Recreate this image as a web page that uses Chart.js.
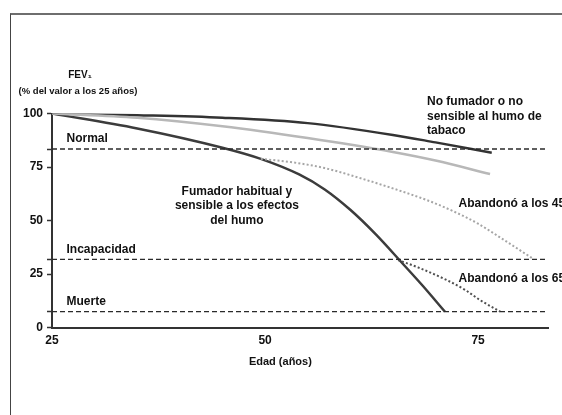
<!DOCTYPE html>
<html>
<head>
<meta charset="utf-8">
<script src="https://cdn.jsdelivr.net/npm/chart.js@4/dist/chart.umd.min.js"></script>
<style>
  html, body { margin: 0; padding: 0; background: #fff; }
  body { width: 562px; height: 415px; position: relative; overflow: hidden; }
  #frame { position: absolute; left: 10px; top: 13px; width: 560px; height: 410px;
           border-top: 2px solid #6e6e6e; border-left: 1px solid #444; }
  #c { position: absolute; left: 0; top: 0; }
</style>
</head>
<body>
<div id="frame"></div>
<canvas id="c" width="562" height="415"></canvas>
<script>
// FEV1 decline with age (Fletcher-Peto style).

const xTicks = [25, 50, 75];
const yTicksLabelled = [0, 25, 50, 75, 100];

// threshold lines
const normalLevel = 83.4;
const disabilityLevel = 31.8;
const deathLevel = 7.4;

// never smoked / not susceptible (dark)
const noSmokerAge = [25, 35, 45, 55, 65, 70, 76.6];
const noSmokerFev = [100, 99.2, 98, 95.5, 90, 86.5, 81.7];

// light grey line
const lightAge = [25, 35, 45, 55, 65, 70, 76.4];
const lightFev = [100, 98, 94, 88.5, 82, 78, 71.7];

// regular smoker, susceptible
const smokerAge = [25, 35, 45, 49.5, 54, 57, 60, 63, 66, 68.5, 71.1];
const smokerFev = [100, 93, 84, 78.8, 71.5, 64.5, 55, 43.5, 30.5, 19.5, 7.4];

// stopped at 45
const quit45Age = [49.5, 53, 57, 61, 65, 69, 72, 75, 78, 81.5];
const quit45Fev = [78.8, 77.3, 74.5, 70, 65, 59.5, 54.5, 48.5, 41, 32];

// stopped at 65
const quit65Age = [65.6, 68, 71.3, 73.5, 75.2, 77.6];
const quit65Fev = [31.5, 28, 22.2, 17.5, 12.9, 7.4];

const xMin = 25, xMax = 83.2, yMin = 0, yMax = 100;

const pts = (xs, ys) => xs.map((x, i) => ({ x, y: ys[i] }));
const hline = (v) => [{ x: xMin, y: v }, { x: xMax, y: v }];

const FONT = '"Liberation Sans", Arial, sans-serif';

// text annotations, anchored in data units
const notes = [
  { text: 'Normal', x: 26.7, y: 88.4, align: 'left' },
  { text: 'Incapacidad', x: 26.7, y: 36.5, align: 'left' },
  { text: 'Muerte', x: 26.7, y: 11.9, align: 'left' },
  { text: 'Fumador habitual y', x: 46.7, y: 63.5, align: 'center' },
  { text: 'sensible a los efectos', x: 46.7, y: 56.8, align: 'center' },
  { text: 'del humo', x: 46.7, y: 50, align: 'center' },
  { text: 'No fumador o no', x: 69, y: 105.3, align: 'left' },
  { text: 'sensible al humo de', x: 69, y: 98.4, align: 'left' },
  { text: 'tabaco', x: 69, y: 91.8, align: 'left' },
  { text: 'Abandonó a los 45', x: 72.7, y: 57.7, align: 'left' },
  { text: 'Abandonó a los 65', x: 72.7, y: 22.9, align: 'left' },
];

const textPlugin = {
  id: 'notes',
  afterDraw(chart) {
    const { ctx, scales: { x, y } } = chart;
    ctx.save();
    ctx.fillStyle = '#111';
    ctx.textBaseline = 'middle';
    ctx.font = 'bold 12px ' + FONT;
    for (const n of notes) {
      ctx.textAlign = n.align;
      ctx.fillText(n.text, x.getPixelForValue(n.x), y.getPixelForValue(n.y));
    }
    // axis titles
    ctx.textAlign = 'center';
    ctx.font = 'bold 11px ' + FONT;
    ctx.fillText('Edad (años)', x.getPixelForValue(51.8), y.bottom + 34);
    ctx.font = 'bold 10px ' + FONT;
    ctx.fillText('FEV₁', 80, y.top - 38);
    ctx.font = 'bold 9.5px ' + FONT;
    ctx.fillText('(% del valor a los 25 años)', 78, y.top - 22);
    ctx.restore();
  }
};

const solid = (data, color, w) => ({
  data, borderColor: color, borderWidth: w, pointRadius: 0,
  cubicInterpolationMode: 'monotone', fill: false,
});
const dotted = (data, color) => ({
  data, borderColor: color, borderWidth: 2, borderDash: [2, 2.2], pointRadius: 0,
  cubicInterpolationMode: 'monotone', fill: false,
});
const dashed = (v) => ({
  data: hline(v), borderColor: '#2a2a2a', borderWidth: 1.3, borderDash: [5, 3],
  pointRadius: 0, fill: false,
});

new Chart(document.getElementById('c'), {
  type: 'line',
  data: {
    datasets: [
      dashed(normalLevel),
      dashed(disabilityLevel),
      dashed(deathLevel),
      dotted(pts(quit45Age, quit45Fev), '#a6a6a6'),
      dotted(pts(quit65Age, quit65Fev), '#505050'),
      solid(pts(lightAge, lightFev), '#b8b8b8', 2.5),
      solid(pts(noSmokerAge, noSmokerFev), '#333', 2.5),
      solid(pts(smokerAge, smokerFev), '#3c3c3c', 2.5),
    ],
  },
  options: {
    responsive: false,
    animation: false,
    layout: { padding: { left: 12, top: 113.5, right: 14, bottom: 47.5 } },
    plugins: { legend: { display: false }, tooltip: { enabled: false } },
    scales: {
      x: {
        type: 'linear', min: xMin, max: xMax,
        afterBuildTicks: (s) => { s.ticks = xTicks.map(v => ({ value: v })); },
        afterFit: (s) => { s.height = 40; },
        grid: { display: false, drawOnChartArea: false, drawTicks: true, tickLength: 5, color: '#333', tickWidth: 1.5 },
        border: { color: '#333', width: 2 },
        ticks: { color: '#111', padding: 1, font: { family: FONT, size: 12, weight: 'bold' } },
      },
      y: {
        type: 'linear', min: yMin, max: yMax,
        afterBuildTicks: (s) => {
          s.ticks = [...yTicksLabelled, normalLevel, disabilityLevel, deathLevel]
            .sort((a, b) => a - b).map(v => ({ value: v }));
        },
        afterFit: (s) => { s.width = 40; },
        grid: { display: true, drawOnChartArea: false, drawTicks: true, tickLength: 5, color: '#333', tickWidth: 1.5 },
        border: { color: '#333', width: 2 },
        ticks: {
          color: '#111', padding: 4, font: { family: FONT, size: 12, weight: 'bold' },
          callback: (v) => yTicksLabelled.includes(v) ? String(v) : '',
        },
      },
    },
  },
  plugins: [textPlugin],
});
</script>
</body>
</html>
